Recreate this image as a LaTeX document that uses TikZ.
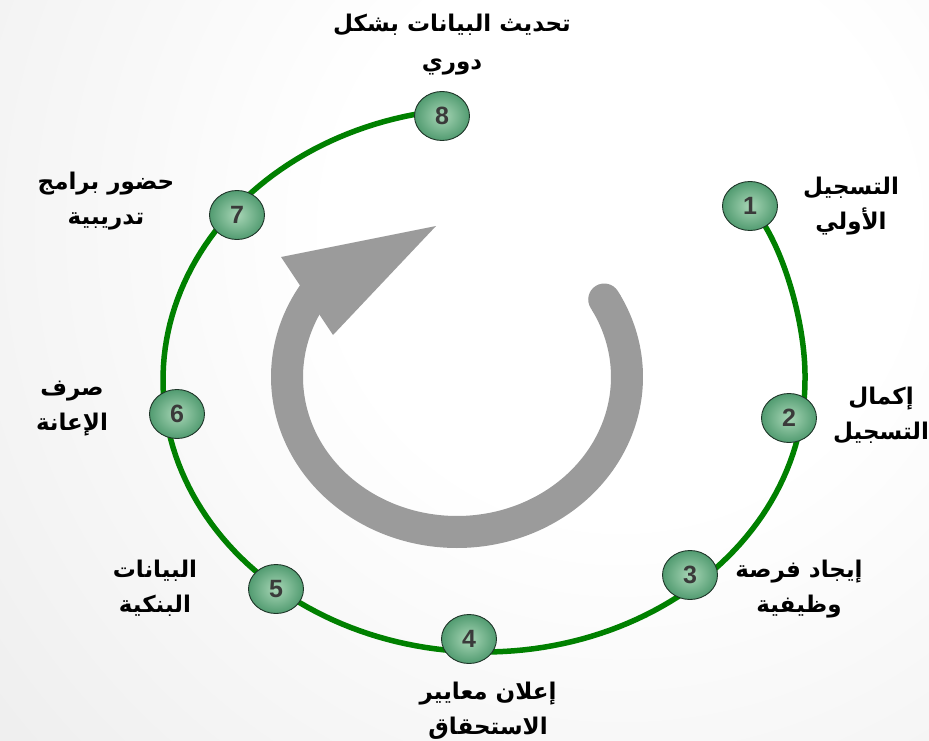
\documentclass[tikz,border=0pt]{standalone}
\usepackage{fontspec}
\usetikzlibrary{shapes.geometric}
\TeXXeTstate=1
\newfontfamily\arabicfont[Script=Arabic]{DejaVu Sans}
\newfontfamily\numfont{Liberation Sans}
\definecolor{bgouter}{HTML}{E0E0E0}
\definecolor{ninner}{HTML}{A8D6B6}
\definecolor{nouter}{HTML}{2F8455}
\definecolor{ringgreen}{HTML}{008000}
\definecolor{arrowgray}{HTML}{9B9B9B}
\definecolor{numgray}{HTML}{3A3A3A}
\definecolor{nodeline}{HTML}{1E3528}
\pgfdeclareradialshading{bgshade}{\pgfpoint{0bp}{0bp}}{color(0bp)=(white); color(8bp)=(white); color(35bp)=(bgouter); color(50bp)=(bgouter)}
\pgfdeclareradialshading{nodeshade}{\pgfpoint{0bp}{0bp}}{color(0bp)=(ninner); color(35bp)=(nouter); color(50bp)=(nouter)}
\pgfdeclarelayer{bg}
\pgfsetlayers{bg,main}
\begin{document}
\begin{tikzpicture}[x=1pt,y=-1pt,
  stepnode/.style={ellipse, draw=nodeline, line width=0.9pt, shade, shading=nodeshade,
    minimum width=55pt, minimum height=49pt, inner sep=0pt,
    font=\numfont\bfseries\fontsize{25}{25}\selectfont, text=numgray},
  lbl/.style={align=center, inner sep=0pt, text=black,
    font=\arabicfont\bfseries\fontsize{23}{35}\selectfont},
  ring/.style={draw=ringgreen, line width=5.5pt},
  cyclearrow/.style={draw=arrowgray, line width=32pt}
]
\useasboundingbox (0,0) rectangle (929,741);

% step nodes
\node[stepnode] (n1) at (750,206) {1};
\node[stepnode] (n2) at (789,418) {2};
\node[stepnode] (n3) at (690,575) {3};
\node[stepnode] (n4) at (469,639) {4};
\node[stepnode] (n5) at (276,589) {5};
\node[stepnode] (n6) at (177,414) {6};
\node[stepnode] (n7) at (237,215) {7};
\node[stepnode] (n8) at (442,116) {8};

% labels
\node[lbl] (t1) at (851,206) {\beginR التسجيل\endR\\\beginR الأولي\endR};
\node[lbl] (t2) at (881,415) {\beginR إكمال\endR\\\beginR التسجيل\endR};
\node[lbl] (t3) at (799,589) {\beginR إيجاد فرصة\endR\\\beginR وظيفية\endR};
\node[lbl] (t4) at (488,711) {\beginR إعلان معايير\endR\\\beginR الاستحقاق\endR};
\node[lbl] (t5) at (155,588) {\beginR البيانات\endR\\\beginR البنكية\endR};
\node[lbl] (t6) at (72,409) {\beginR صرف\endR\\\beginR الإعانة\endR};
\node[lbl] (t7) at (106,201) {\beginR حضور برامج\endR\\\beginR تدريبية\endR};
\node[lbl,font=\arabicfont\bfseries\fontsize{23}{38}\selectfont] (t8) at (452,45) {\beginR تحديث البيانات بشكل\endR\\\beginR دوري\endR};

\begin{pgfonlayer}{bg}
  % background
  \begin{scope}
    \clip (0,0) rectangle (929,741);
    \fill[bgouter] (0,0) rectangle (929,741);
    \shade[shading=bgshade] (620,230) circle (900);
  \end{scope}
  % green ring
  \draw[ring] (n1.center) .. controls (780,236) and (806,320) .. (805,380)
    -- plot[domain=0:-262.5, samples=150] ({484+321*cos(\x)},{380-272*sin(\x)})
    -- (n8.center);
  % grey cycle arrow
  \draw[cyclearrow, line cap=round] plot[domain=-29:-30, samples=2] ({457+170*cos(\x)},{377+155*sin(\x)});
  \draw[cyclearrow] plot[domain=-29:214, samples=150] ({457+170*cos(\x)},{377+155*sin(\x)});
  \coordinate (hA) at (281,257);
  \coordinate (hT) at (436,226);
  \coordinate (hB) at (333,335);
  \fill[arrowgray] (hA) -- (hT) -- (hB) -- cycle;
\end{pgfonlayer}
\end{tikzpicture}
\end{document}
